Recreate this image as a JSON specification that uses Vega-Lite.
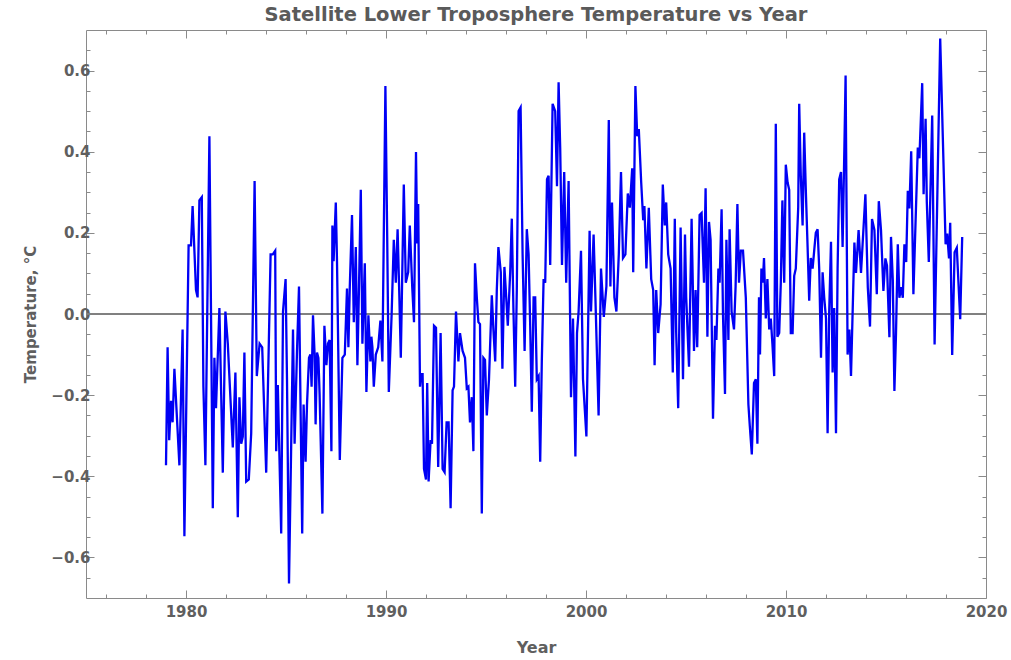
{
  "$schema": "https://vega.github.io/schema/vega-lite/v6.json",
  "width": 900,
  "height": 568,
  "autosize": {"type": "none"},
  "padding": {"left": 86, "top": 30, "right": 25, "bottom": 62},
  "background": "white",
  "title": {"text": "Satellite Lower Troposphere Temperature vs Year", "font": "DejaVu Sans", "fontSize": 19.5, "fontWeight": "bold", "color": "#5a5a5a", "offset": 4, "anchor": "middle"},
  "config": {"view": {"stroke": "#8a8a8a", "strokeWidth": 1}},
  "data": {"values": [
    {"year":1979.00,"temp":-0.373},{"year":1979.08,"temp":-0.082},{"year":1979.16,"temp":-0.311},{"year":1979.25,"temp":-0.214},{"year":1979.33,"temp":-0.267},{"year":1979.42,"temp":-0.135},{"year":1979.67,"temp":-0.373},{"year":1979.83,"temp":-0.038},{"year":1979.92,"temp":-0.548},{"year":1980.13,"temp":0.169},{"year":1980.25,"temp":0.169},{"year":1980.33,"temp":0.266},{"year":1980.50,"temp":0.059},{"year":1980.58,"temp":0.041},{"year":1980.67,"temp":0.280},{"year":1980.79,"temp":0.288},{"year":1980.87,"temp":-0.179},{"year":1980.97,"temp":-0.373},{"year":1981.17,"temp":0.438},{"year":1981.34,"temp":-0.479},{"year":1981.42,"temp":-0.108},{"year":1981.50,"temp":-0.232},{"year":1981.67,"temp":0.015},{"year":1981.84,"temp":-0.391},{"year":1981.97,"temp":0.006},{"year":1982.09,"temp":-0.073},
    {"year":1982.34,"temp":-0.329},{"year":1982.47,"temp":-0.144},{"year":1982.59,"temp":-0.501},{"year":1982.67,"temp":-0.205},{"year":1982.76,"temp":-0.320},{"year":1982.84,"temp":-0.302},{"year":1982.92,"temp":-0.095},{"year":1983.01,"temp":-0.413},{"year":1983.14,"temp":-0.408},{"year":1983.26,"temp":-0.294},{"year":1983.43,"temp":0.328},{"year":1983.54,"temp":-0.153},{"year":1983.68,"temp":-0.073},{"year":1983.81,"temp":-0.082},{"year":1984.01,"temp":-0.391},{"year":1984.23,"temp":0.147},{"year":1984.34,"temp":0.147},{"year":1984.46,"temp":0.156},{"year":1984.51,"temp":-0.338},{"year":1984.59,"temp":-0.175},{"year":1984.76,"temp":-0.541},{"year":1984.85,"temp":0.006},{"year":1984.98,"temp":0.086},{"year":1985.05,"temp":-0.161},{"year":1985.15,"temp":-0.664},{"year":1985.35,"temp":-0.038},{"year":1985.43,"temp":-0.320},{"year":1985.55,"temp":-0.091},{"year":1985.65,"temp":0.068},
    {"year":1985.81,"temp":-0.541},{"year":1985.88,"temp":-0.223},{"year":1985.98,"temp":-0.364},{"year":1986.05,"temp":-0.223},{"year":1986.15,"temp":-0.108},{"year":1986.22,"temp":-0.100},{"year":1986.28,"temp":-0.179},{"year":1986.35,"temp":-0.003},{"year":1986.43,"temp":-0.100},{"year":1986.48,"temp":-0.272},{"year":1986.55,"temp":-0.095},{"year":1986.62,"temp":-0.108},{"year":1986.68,"temp":-0.197},{"year":1986.82,"temp":-0.492},{"year":1986.92,"temp":-0.029},{"year":1987.02,"temp":-0.126},{"year":1987.10,"temp":-0.073},{"year":1987.18,"temp":-0.064},{"year":1987.27,"temp":-0.338},{"year":1987.32,"temp":0.218},{"year":1987.38,"temp":0.130},{"year":1987.49,"temp":0.275},{"year":1987.55,"temp":0.130},{"year":1987.69,"temp":-0.360},{"year":1987.82,"temp":-0.108},{"year":1987.94,"temp":-0.100},{"year":1988.05,"temp":0.063},{"year":1988.12,"temp":-0.082},{"year":1988.19,"temp":0.068},{"year":1988.30,"temp":0.244},{"year":1988.39,"temp":-0.020},{"year":1988.49,"temp":0.165},{"year":1988.57,"temp":-0.126},{"year":1988.65,"temp":0.068},{"year":1988.74,"temp":0.306},{"year":1988.82,"temp":-0.073},{"year":1988.94,"temp":0.125},{"year":1989.02,"temp":-0.192},{"year":1989.12,"temp":-0.003},
    {"year":1989.22,"temp":-0.117},{"year":1989.27,"temp":-0.056},{"year":1989.32,"temp":-0.082},{"year":1989.39,"temp":-0.179},{"year":1989.49,"temp":-0.100},{"year":1989.61,"temp":-0.082},{"year":1989.72,"temp":-0.016},{"year":1989.82,"temp":-0.117},{"year":1989.97,"temp":0.562},{"year":1990.06,"temp":0.191},{"year":1990.14,"temp":-0.192},{"year":1990.28,"temp":-0.003},{"year":1990.39,"temp":0.183},{"year":1990.49,"temp":0.077},{"year":1990.58,"temp":0.209},{"year":1990.66,"temp":0.059},{"year":1990.74,"temp":-0.108},{"year":1990.89,"temp":0.319},{"year":1990.99,"temp":0.077},{"year":1991.11,"temp":0.103},{"year":1991.19,"temp":0.218},{"year":1991.31,"temp":0.068},{"year":1991.40,"temp":-0.020},{"year":1991.50,"temp":0.399},{"year":1991.56,"temp":0.174},{"year":1991.61,"temp":0.271},{"year":1991.70,"temp":-0.179},{"year":1991.75,"temp":-0.148},{"year":1991.83,"temp":-0.148},{"year":1991.90,"temp":-0.382},{"year":1992.00,"temp":-0.408},{"year":1992.06,"temp":-0.170},{"year":1992.13,"temp":-0.413},{"year":1992.23,"temp":-0.311},{"year":1992.30,"temp":-0.320},{"year":1992.40,"temp":-0.029},{"year":1992.50,"temp":-0.034},{"year":1992.61,"temp":-0.377},{"year":1992.73,"temp":-0.047},{"year":1992.83,"temp":-0.382},{"year":1992.93,"temp":-0.390},{"year":1993.03,"temp":-0.267},{"year":1993.13,"temp":-0.267},{"year":1993.23,"temp":-0.479},{"year":1993.33,"temp":-0.188},{"year":1993.40,"temp":-0.179},{"year":1993.50,"temp":0.006},{"year":1993.62,"temp":-0.117},{"year":1993.70,"temp":-0.047},{"year":1993.83,"temp":-0.091},{"year":1993.95,"temp":-0.108},
    {"year":1994.04,"temp":-0.183},{"year":1994.12,"temp":-0.179},{"year":1994.20,"temp":-0.267},{"year":1994.29,"temp":-0.205},{"year":1994.37,"temp":-0.338},{"year":1994.45,"temp":0.125},{"year":1994.54,"temp":0.041},{"year":1994.62,"temp":-0.020},{"year":1994.70,"temp":-0.025},{"year":1994.79,"temp":-0.492},{"year":1994.87,"temp":-0.108},{"year":1994.95,"temp":-0.113},{"year":1995.04,"temp":-0.250},{"year":1995.15,"temp":-0.161},{"year":1995.29,"temp":0.046},{"year":1995.37,"temp":-0.038},{"year":1995.46,"temp":-0.117},{"year":1995.54,"temp":0.059},{"year":1995.62,"temp":0.165},{"year":1995.74,"temp":0.103},{"year":1995.82,"temp":-0.135},{"year":1995.92,"temp":0.116},{"year":1995.99,"temp":0.059},{"year":1996.09,"temp":-0.029},{"year":1996.21,"temp":0.103},{"year":1996.29,"temp":0.235},{"year":1996.37,"temp":0.015},{"year":1996.46,"temp":-0.179},{"year":1996.54,"temp":0.059},{"year":1996.63,"temp":0.500},{"year":1996.73,"temp":0.509},{"year":1996.83,"temp":0.147},{"year":1996.93,"temp":-0.091},{"year":1997.04,"temp":0.209},{"year":1997.13,"temp":0.147},{"year":1997.21,"temp":-0.029},{"year":1997.29,"temp":-0.241},{"year":1997.38,"temp":0.041},{"year":1997.46,"temp":0.041},{"year":1997.54,"temp":-0.161},{"year":1997.63,"temp":-0.153},{"year":1997.71,"temp":-0.364},{"year":1997.79,"temp":-0.117},{"year":1997.88,"temp":0.086},{"year":1997.96,"temp":0.077},{"year":1998.05,"temp":0.332},{"year":1998.13,"temp":0.341},{"year":1998.21,"temp":0.121},{"year":1998.33,"temp":0.518},{"year":1998.46,"temp":0.500},{"year":1998.55,"temp":0.315},{"year":1998.63,"temp":0.571},
    {"year":1998.71,"temp":0.410},{"year":1998.80,"temp":0.121},{"year":1998.91,"temp":0.350},{"year":1999.01,"temp":0.077},{"year":1999.13,"temp":0.328},{"year":1999.25,"temp":-0.205},{"year":1999.35,"temp":-0.011},{"year":1999.47,"temp":-0.351},{"year":1999.55,"temp":-0.047},{"year":1999.63,"temp":0.006},{"year":1999.75,"temp":0.156},{"year":1999.85,"temp":-0.161},{"year":2000.02,"temp":-0.302},{"year":2000.18,"temp":0.205},{"year":2000.25,"temp":0.006},{"year":2000.38,"temp":0.196},{"year":2000.47,"temp":0.041},{"year":2000.63,"temp":-0.250},{"year":2000.75,"temp":0.112},{"year":2000.89,"temp":-0.007},{"year":2001.02,"temp":0.068},{"year":2001.14,"temp":0.478},{"year":2001.22,"temp":0.068},{"year":2001.30,"temp":0.275},{"year":2001.42,"temp":0.041},{"year":2001.52,"temp":0.006},{"year":2001.64,"temp":0.147},{"year":2001.75,"temp":0.350},{"year":2001.85,"temp":0.138},{"year":2001.97,"temp":0.147},{"year":2002.09,"temp":0.297},{"year":2002.19,"temp":0.262},{"year":2002.31,"temp":0.359},{"year":2002.36,"temp":0.103},{"year":2002.47,"temp":0.562},{"year":2002.56,"temp":0.438},{"year":2002.64,"temp":0.456},{"year":2002.76,"temp":0.324},{"year":2002.86,"temp":0.231},{"year":2002.92,"temp":0.266},{"year":2003.02,"temp":0.112},{"year":2003.14,"temp":0.262},{"year":2003.26,"temp":0.086},{"year":2003.36,"temp":0.059},{"year":2003.43,"temp":-0.126},{"year":2003.51,"temp":0.059},
    {"year":2003.61,"temp":-0.047},{"year":2003.73,"temp":0.024},{"year":2003.84,"temp":0.319},{"year":2003.94,"temp":0.218},{"year":2004.01,"temp":0.275},{"year":2004.11,"temp":0.147},{"year":2004.23,"temp":0.112},{"year":2004.34,"temp":-0.144},{"year":2004.44,"temp":0.235},{"year":2004.51,"temp":-0.047},{"year":2004.61,"temp":-0.232},{"year":2004.73,"temp":0.213},{"year":2004.85,"temp":-0.161},{"year":2004.95,"temp":0.196},{"year":2005.01,"temp":0.041},{"year":2005.15,"temp":-0.130},{"year":2005.28,"temp":0.235},{"year":2005.40,"temp":-0.091},{"year":2005.48,"temp":0.059},{"year":2005.56,"temp":-0.082},{"year":2005.68,"temp":0.244},{"year":2005.78,"temp":0.249},{"year":2005.90,"temp":0.077},{"year":2005.98,"temp":0.310},{"year":2006.07,"temp":-0.056},{"year":2006.15,"temp":0.227},{"year":2006.23,"temp":0.183},{"year":2006.35,"temp":-0.258},{"year":2006.45,"temp":-0.029},{"year":2006.52,"temp":-0.064},{"year":2006.62,"temp":0.112},{"year":2006.68,"temp":0.077},{"year":2006.78,"temp":0.258},{"year":2006.85,"temp":-0.003},{"year":2006.95,"temp":-0.197},{"year":2007.02,"temp":0.183},{"year":2007.12,"temp":-0.064},{"year":2007.18,"temp":0.209},{"year":2007.28,"temp":0.006},{"year":2007.40,"temp":-0.038},{"year":2007.48,"temp":0.068},{"year":2007.57,"temp":0.271},{"year":2007.65,"temp":0.077},{"year":2007.74,"temp":0.156},{"year":2007.85,"temp":0.156},{"year":2007.99,"temp":0.041},{"year":2008.12,"temp":-0.223},{"year":2008.19,"temp":-0.276},{"year":2008.29,"temp":-0.346},
    {"year":2008.40,"temp":-0.170},{"year":2008.49,"temp":-0.161},{"year":2008.57,"temp":-0.320},{"year":2008.65,"temp":0.041},{"year":2008.70,"temp":-0.100},{"year":2008.77,"temp":0.112},{"year":2008.84,"temp":0.077},{"year":2008.90,"temp":0.138},{"year":2008.99,"temp":-0.011},{"year":2009.07,"temp":0.086},{"year":2009.16,"temp":-0.038},{"year":2009.24,"temp":-0.011},{"year":2009.32,"temp":-0.073},{"year":2009.41,"temp":-0.153},{"year":2009.49,"temp":0.469},{"year":2009.57,"temp":-0.056},{"year":2009.66,"temp":-0.047},{"year":2009.74,"temp":0.077},{"year":2009.82,"temp":0.280},{"year":2009.91,"temp":0.077},{"year":2009.99,"temp":0.368},{"year":2010.08,"temp":0.324},{"year":2010.16,"temp":0.306},{"year":2010.24,"temp":-0.047},{"year":2010.33,"temp":-0.047},{"year":2010.41,"temp":0.094},{"year":2010.49,"temp":0.112},{"year":2010.61,"temp":0.262},{"year":2010.66,"temp":0.518},{"year":2010.74,"temp":0.341},{"year":2010.83,"temp":0.218},{"year":2010.91,"temp":0.447},{"year":2010.99,"temp":0.306},{"year":2011.08,"temp":0.165},{"year":2011.16,"temp":0.033},{"year":2011.24,"temp":0.138},{"year":2011.33,"temp":0.112},{"year":2011.41,"temp":0.156},{"year":2011.49,"temp":0.200},{"year":2011.58,"temp":0.209},{"year":2011.66,"temp":0.112},{"year":2011.75,"temp":-0.108},{"year":2011.83,"temp":0.103},{"year":2011.91,"temp":0.041},{"year":2012.00,"temp":-0.011},{"year":2012.08,"temp":-0.294},{"year":2012.16,"temp":0.006},{"year":2012.25,"temp":0.178},{"year":2012.33,"temp":-0.144},{"year":2012.41,"temp":0.015},{"year":2012.50,"temp":-0.294},{"year":2012.58,"temp":0.112},{"year":2012.66,"temp":0.332},{"year":2012.75,"temp":0.350},{"year":2012.83,"temp":0.165},{"year":2012.92,"temp":0.412},{"year":2012.98,"temp":0.588},{"year":2013.08,"temp":-0.100},{"year":2013.17,"temp":-0.038},{"year":2013.25,"temp":-0.153},
    {"year":2013.42,"temp":0.176},{"year":2013.50,"temp":0.101},{"year":2013.63,"temp":0.207},{"year":2013.75,"temp":0.101},{"year":2013.83,"temp":0.172},{"year":2013.97,"temp":0.295},{"year":2014.09,"temp":0.066},{"year":2014.20,"temp":-0.031},{"year":2014.30,"temp":0.234},{"year":2014.42,"temp":0.207},{"year":2014.54,"temp":0.049},{"year":2014.64,"temp":0.278},{"year":2014.75,"temp":0.207},{"year":2014.87,"temp":0.057},{"year":2014.97,"temp":0.137},{"year":2015.05,"temp":0.119},{"year":2015.17,"temp":-0.057},{"year":2015.25,"temp":0.190},{"year":2015.34,"temp":0.084},{"year":2015.42,"temp":-0.190},{"year":2015.50,"temp":-0.049},{"year":2015.59,"temp":0.172},{"year":2015.67,"temp":0.040},{"year":2015.76,"temp":0.066},{"year":2015.84,"temp":0.040},{"year":2015.92,"temp":0.172},{"year":2016.01,"temp":0.128},{"year":2016.09,"temp":0.304},{"year":2016.17,"temp":0.260},{"year":2016.26,"temp":0.401},{"year":2016.37,"temp":0.049},{"year":2016.59,"temp":0.410},{"year":2016.67,"temp":0.384},{"year":2016.81,"temp":0.569},{"year":2016.88,"temp":0.295},{"year":2016.98,"temp":0.481},{"year":2017.04,"temp":0.277},{"year":2017.14,"temp":0.128},{"year":2017.31,"temp":0.489},{"year":2017.43,"temp":-0.075},{"year":2017.71,"temp":0.679},{"year":2017.84,"temp":0.437},{"year":2017.98,"temp":0.172},{"year":2018.06,"temp":0.198},{"year":2018.15,"temp":0.137},{"year":2018.21,"temp":0.225},{"year":2018.31,"temp":-0.101},{"year":2018.43,"temp":0.152},{"year":2018.54,"temp":0.163},{"year":2018.71,"temp":-0.013},{"year":2018.81,"temp":0.190}
  ]},
  "layer": [
    {
      "mark": {"type": "rule", "color": "#808080", "strokeWidth": 1},
      "encoding": {"y": {"datum": 0, "type": "quantitative", "scale": {"domain": [-0.7, 0.7], "nice": false, "zero": false}, "axis": null}}
    },
    {
      "mark": {"type": "line", "color": "#0000f5", "strokeWidth": 2.3, "interpolate": "linear"},
      "encoding": {
        "x": {"field": "year", "type": "quantitative", "scale": {"domain": [1975, 2020], "nice": false, "zero": false},
          "axis": {"orient": "bottom", "values": [1976,1978,1980,1982,1984,1986,1988,1990,1992,1994,1996,1998,2000,2002,2004,2006,2008,2010,2012,2014,2016,2018,2020],
            "format": "d", "labelExpr": "datum.value % 10 === 0 ? datum.label : ''",
            "tickSize": {"condition": {"test": "datum.value % 10 === 0", "value": -8}, "value": -4},
            "tickColor": "#8a8a8a", "domain": false, "grid": false, "labelFlush": false, "labelOverlap": false, "labelBound": false,
            "labelFont": "DejaVu Sans", "labelFontSize": 15, "labelFontWeight": "bold", "labelColor": "#5f5f5f", "labelPadding": 14,
            "title": "Year", "titleFont": "DejaVu Sans", "titleFontSize": 16, "titleFontWeight": "bold", "titleColor": "#5f5f5f", "titlePadding": 16}},
        "y": {"field": "temp", "type": "quantitative", "scale": {"domain": [-0.7, 0.7], "nice": false, "zero": false},
          "axis": {"orient": "left", "values": [-0.65,-0.6,-0.55,-0.5,-0.45,-0.4,-0.35,-0.3,-0.25,-0.2,-0.15,-0.1,-0.05,0,0.05,0.1,0.15,0.2,0.25,0.3,0.35,0.4,0.45,0.5,0.55,0.6,0.65],
            "format": ".1f", "labelExpr": "abs(datum.value*5 - round(datum.value*5)) < 0.001 ? datum.label : ''",
            "tickSize": {"condition": {"test": "abs(datum.value*5 - round(datum.value*5)) < 0.001", "value": -8}, "value": -4},
            "tickColor": "#8a8a8a", "domain": false, "grid": false, "labelFlush": false, "labelOverlap": false, "labelBound": false,
            "labelFont": "DejaVu Sans", "labelFontSize": 15, "labelFontWeight": "bold", "labelColor": "#5f5f5f", "labelPadding": 4,
            "title": "Temperature, °C", "titleFont": "DejaVu Sans", "titleFontSize": 15, "titleFontWeight": "bold", "titleColor": "#5f5f5f", "titlePadding": 12}}
      }
    },
    {
      "mark": {"type": "line", "opacity": 0},
      "encoding": {
        "x": {"field": "year", "type": "quantitative", "scale": {"domain": [1975, 2020], "nice": false, "zero": false},
          "axis": {"orient": "top", "values": [1976,1978,1980,1982,1984,1986,1988,1990,1992,1994,1996,1998,2000,2002,2004,2006,2008,2010,2012,2014,2016,2018,2020],
            "labels": false, "title": null, "domain": false, "grid": false, "tickColor": "#8a8a8a",
            "tickSize": {"condition": {"test": "datum.value % 10 === 0", "value": -8}, "value": -4}}},
        "y": {"field": "temp", "type": "quantitative", "scale": {"domain": [-0.7, 0.7], "nice": false, "zero": false},
          "axis": {"orient": "right", "values": [-0.65,-0.6,-0.55,-0.5,-0.45,-0.4,-0.35,-0.3,-0.25,-0.2,-0.15,-0.1,-0.05,0,0.05,0.1,0.15,0.2,0.25,0.3,0.35,0.4,0.45,0.5,0.55,0.6,0.65],
            "labels": false, "title": null, "domain": false, "grid": false, "tickColor": "#8a8a8a",
            "tickSize": {"condition": {"test": "abs(datum.value*5 - round(datum.value*5)) < 0.001", "value": -8}, "value": -4}}}
      }
    }
  ],
  "resolve": {"axis": {"x": "independent", "y": "independent"}}
}
